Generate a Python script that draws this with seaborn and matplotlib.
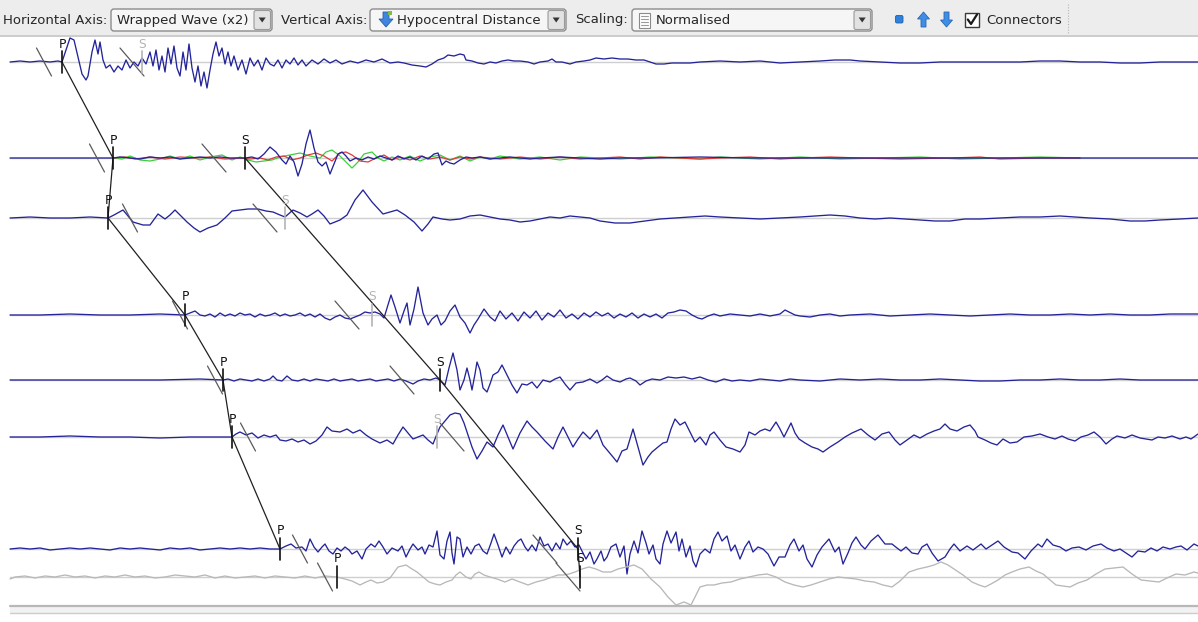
import matplotlib
matplotlib.use("Agg")
import numpy as np
import pandas as pd
import matplotlib.pyplot as plt
from matplotlib.patches import FancyBboxPatch, Rectangle, Polygon
import seaborn as sns

# ---------------- data ----------------
DT = 0.05      # seconds per sample unit (20 Hz)
GAIN = 0.2     # km of plot offset per normalised amplitude unit

STATIONS = ["S01", "S02", "S03", "S04", "S05", "S06", "S07", "S08"]
DIST_KM = [8.4, 27.6, 39.6, 59.0, 72.0, 83.4, 105.8, 111.4]

# (sample, normalised amplitude) pairs read from the record section
T1 = [(10,0),(20,1),(30,0),(40,1),(50,0),(58,1),(62,0),(66,12),(70,24),(74,22),(78,5),(82,-12),(86,-18),(88,-14),(92,10),(95,22),(98,8),(100,20),(103,2),(106,-6),(110,-3),(114,-10),(118,-4),(122,-8),(126,2),(130,-6),(134,0),(138,-4),(142,4),(146,-2),(150,10),(153,-4),(156,12),(159,-8),(162,6),(165,-10),(168,14),(171,-2),(174,16),(177,-6),(180,-14),(183,10),(186,-8),(189,18),(192,-6),(195,-20),(198,-4),(201,-24),(204,-10),(207,-26),(210,-8),(213,8),(216,20),(219,6),(222,14),(225,-2),(228,10),(231,-4),(234,6),(238,-8),(242,2),(246,-12),(250,4),(254,-4),(258,2),(262,-8),(266,4),(270,-2),(274,-4),(278,2),(282,-6),(286,2),(290,-2),(294,4),(298,-3),(302,2),(306,-4),(312,2),(318,-2),(324,3),(330,-1),(336,2),(342,-2),(350,1),(358,-1),(366,2),(374,0),(382,3),(390,-1),(398,0),(404,-1),(412,-3),(420,-4),(426,-5),(432,-2),(438,2),(444,4),(448,7),(454,6),(460,8),(464,7),(466,2),(472,1),(478,-1),(484,-2),(490,0),(496,-1),(502,1),(508,2),(514,1),(520,1),(528,0),(534,-2),(540,0),(548,1),(552,3),(556,0),(562,0),(570,-2),(576,0),(584,1),(590,2),(596,4),(604,3),(612,4),(620,3),(628,3),(636,2),(644,2),(650,0),(656,-2),(664,-2),(672,-1),(680,-1),(690,-1),(700,0),(720,1),(740,0),(760,1),(780,-1),(800,0),(820,1),(835,2),(850,2),(860,1),(880,0),(900,-1),(920,-1),(940,0),(960,0),(980,0),(1000,0),(1020,0),(1040,1),(1060,1),(1080,0),(1100,0),(1120,-1),(1140,-1),(1160,0),(1180,0),(1198,0)]

T2 = [(10,0),(60,0),(113,0),(120,1),(130,0),(140,-1),(150,1),(160,0),(170,1),(180,-1),(190,0),(200,1),(210,0),(220,1),(230,0),(245,0),(252,1),(258,-1),(264,4),(270,11),(276,6),(282,-2),(286,-6),(290,2),(294,-4),(298,-18),(302,-6),(306,14),(310,28),(314,10),(318,-4),(322,-8),(326,-4),(330,-16),(334,-6),(338,4),(342,6),(346,2),(350,-3),(356,0),(362,-2),(368,1),(374,-1),(380,2),(386,0),(392,-2),(398,2),(404,-1),(410,1),(416,-2),(422,2),(428,-1),(434,4),(438,5),(442,-7),(446,-3),(450,-5),(454,-6),(460,-2),(466,1),(472,0),(480,1),(490,-1),(500,0),(510,1),(520,0),(530,-1),(540,0),(560,1),(580,0),(600,-1),(620,0),(650,0),(700,1),(750,0),(800,0),(900,0),(1000,0),(1100,0),(1198,0)]

T2_RED = [(113,0),(125,1),(135,-1),(150,1),(165,-1),(180,1),(195,0),(210,1),(225,-1),(240,0),(250,-1),(260,0),(268,-2),(276,1),(284,2),(292,-2),(300,0),(308,3),(316,5),(324,2),(332,-3),(340,5),(346,6),(352,3),(360,-3),(368,-4),(376,0),(384,3),(392,-2),(400,1),(410,-2),(420,2),(430,-1),(440,1),(450,-2),(460,1),(470,-1),(480,1),(500,-1),(520,1),(540,-1),(560,1),(580,-1),(600,0),(620,1),(640,-1),(660,1),(680,0),(700,-1),(720,0),(750,1),(780,-1),(800,0),(830,1),(860,0),(900,-1),(950,0),(980,1),(1000,-1),(1040,0),(1080,0)]

T2_GREEN = [(113,0),(122,-1),(130,2),(140,-2),(150,-3),(160,-1),(170,2),(180,-1),(190,2),(200,-2),(210,1),(222,3),(232,-2),(240,1),(248,-2),(256,-4),(264,-3),(272,-2),(280,1),(290,3),(300,5),(310,2),(320,0),(326,6),(332,8),(340,2),(346,-4),(352,-10),(358,-4),(364,4),(372,6),(378,0),(384,-3),(392,1),(400,-2),(410,2),(420,-3),(430,1),(440,3),(450,-2),(460,2),(470,-3),(480,1),(490,-1),(500,2),(520,-1),(540,1),(560,-2),(580,1),(600,0),(620,-1),(650,1),(680,0),(700,-1),(720,1),(760,-1),(800,1),(840,-1),(880,0),(920,1),(960,-1),(1000,0),(1040,1),(1080,0)]

T3 = [(10,0),(30,1),(50,0),(70,0),(90,1),(108,0),(114,3),(123,8),(128,2),(133,-4),(143,-7),(150,-7),(158,4),(165,-1),(170,3),(175,8),(181,2),(187,-4),(194,-10),(200,-14),(208,-10),(217,-7),(225,0),(232,7),(240,8),(248,9),(258,9),(266,7),(273,6),(280,3),(285,1),(293,8),(300,5),(307,1),(312,4),(318,8),(324,2),(330,-6),(340,-2),(347,3),(355,18),(363,28),(372,16),(383,4),(390,6),(397,8),(405,3),(414,-4),(422,-13),(428,-6),(433,1),(442,-1),(450,-2),(460,-1),(470,2),(480,3),(490,1),(500,-1),(510,-2),(520,-4),(530,-3),(540,-1),(550,1),(560,0),(570,2),(580,1),(590,0),(600,-3),(615,-5),(630,-5),(645,-3),(660,-1),(675,0),(690,1),(705,2),(720,1),(740,0),(760,-1),(780,0),(800,1),(815,2),(830,3),(845,2),(860,0),(875,-1),(890,0),(905,-1),(920,-2),(935,-3),(950,-3),(965,-1),(980,-1),(1000,0),(1020,1),(1040,1),(1060,2),(1075,1),(1090,0),(1110,-1),(1130,-3),(1145,-3),(1160,-2),(1180,-1),(1198,0)]

T4 = [(10,0),(40,0),(70,1),(100,0),(130,0),(160,1),(185,0),(190,2),(195,4),(200,0),(205,-1),(210,1),(215,-2),(220,2),(225,-1),(230,1),(235,-1),(240,2),(245,0),(250,1),(255,-2),(260,1),(265,-1),(270,0),(275,2),(280,-1),(285,1),(290,-1),(295,0),(300,2),(305,-1),(310,1),(315,-2),(320,1),(325,-3),(330,-5),(335,-2),(340,0),(345,-3),(350,-4),(355,-2),(360,0),(365,3),(370,2),(375,3),(380,1),(384,-3),(388,10),(391,20),(395,8),(400,-8),(404,4),(407,12),(410,-10),(414,6),(418,28),(423,2),(428,-10),(432,-4),(437,0),(441,-10),(445,-6),(450,4),(455,10),(460,-2),(465,-8),(470,-18),(474,-10),(478,-4),(484,6),(490,-2),(495,-6),(500,4),(506,-4),(512,2),(518,-6),(524,3),(530,-3),(536,4),(542,-5),(548,2),(554,-2),(560,5),(566,-3),(572,1),(578,-4),(584,2),(590,-2),(596,3),(602,-1),(608,2),(614,-3),(620,1),(626,-2),(632,2),(638,-3),(644,1),(650,-2),(656,1),(662,-3),(668,2),(674,3),(680,5),(686,4),(692,0),(698,-3),(702,-4),(708,-1),(714,1),(720,-1),(730,1),(740,0),(750,-1),(760,1),(770,-1),(780,1),(785,5),(789,3),(795,0),(800,-1),(810,-2),(820,0),(830,1),(840,-1),(850,0),(870,1),(890,-1),(910,0),(930,1),(950,0),(970,-1),(990,0),(1010,1),(1030,0),(1050,0),(1070,1),(1090,0),(1110,1),(1130,0),(1150,0),(1170,1),(1198,1)]

T5 = [(10,0),(60,0),(110,0),(160,0),(200,1),(223,0),(228,1),(234,-1),(240,1),(246,0),(252,-1),(258,1),(264,-1),(270,1),(273,4),(277,0),(282,-1),(287,4),(292,0),(298,-1),(304,1),(310,-1),(316,1),(322,0),(328,-1),(334,1),(340,-1),(346,0),(352,1),(358,-1),(364,0),(370,1),(376,-1),(382,0),(388,1),(394,-1),(400,1),(406,-1),(413,-4),(418,-1),(424,1),(430,0),(436,2),(440,0),(445,-5),(449,12),(453,27),(457,10),(460,-10),(464,0),(467,12),(470,0),(472,-10),(475,6),(477,18),(480,10),(483,-8),(487,-12),(490,-4),(493,5),(498,8),(502,15),(507,5),(512,-5),(517,-13),(522,-4),(527,-5),(532,-2),(537,-8),(543,0),(550,-2),(555,1),(560,3),(565,-4),(570,-10),(576,-3),(583,-2),(590,1),(597,-3),(602,0),(607,4),(613,0),(620,-2),(626,1),(630,2),(636,-1),(640,-5),(646,-1),(652,1),(660,0),(668,3),(676,2),(684,3),(692,1),(700,3),(708,0),(716,-2),(724,1),(732,-1),(740,0),(750,-1),(760,1),(770,0),(780,-1),(790,1),(800,0),(820,-1),(840,1),(860,0),(880,1),(900,0),(920,0),(940,1),(960,0),(980,-1),(1000,-1),(1020,0),(1040,0),(1060,1),(1080,0),(1100,0),(1120,1),(1140,0),(1160,0),(1198,0)]

T6 = [(10,0),(40,0),(70,1),(100,0),(130,0),(160,-1),(190,0),(215,0),(232,0),(236,3),(240,5),(246,2),(252,4),(258,-1),(264,2),(270,0),(276,2),(280,-3),(286,-4),(292,-2),(298,-5),(304,-3),(310,-7),(316,-4),(322,2),(327,10),(332,6),(340,5),(347,8),(353,4),(360,7),(366,2),(372,-2),(380,-6),(387,-3),(393,-7),(398,2),(403,10),(408,4),(413,-2),(418,0),(423,2),(428,-3),(433,-7),(437,3),(440,10),(445,16),(450,22),(455,24),(460,23),(464,14),(467,5),(472,-10),(477,-22),(482,-14),(487,-5),(493,-10),(498,2),(503,12),(508,0),(513,-12),(520,4),(527,16),(532,10),(537,5),(545,-4),(553,-12),(558,0),(563,10),(568,0),(573,-10),(578,-2),(583,5),(590,-2),(597,7),(603,-8),(608,-14),(613,-20),(617,-25),(622,-14),(627,-12),(633,8),(638,-10),(643,-28),(648,-20),(652,-15),(658,-10),(663,-6),(667,-5),(671,8),(675,18),(680,12),(685,15),(690,5),(695,-5),(700,0),(706,-8),(710,2),(714,5),(720,-3),(726,-10),(733,-12),(740,-15),(745,-8),(749,5),(755,2),(760,6),(765,8),(770,6),(776,15),(780,8),(784,0),(788,8),(791,14),(795,4),(799,-2),(805,-6),(812,-10),(818,-12),(823,-15),(830,-10),(838,-5),(845,0),(852,4),(861,8),(868,2),(875,-3),(882,3),(889,5),(895,-3),(900,-8),(907,-3),(914,2),(920,-1),(927,3),(934,6),(940,8),(945,13),(950,8),(957,6),(964,10),(970,12),(975,6),(978,0),(985,-3),(991,-6),(997,-8),(1003,-2),(1010,-6),(1017,-5),(1024,0),(1032,1),(1040,3),(1048,0),(1055,-2),(1062,1),(1068,-2),(1075,-4),(1081,0),(1088,2),(1094,5),(1100,0),(1106,-7),(1112,-2),(1117,1),(1125,-1),(1132,2),(1140,-1),(1146,-2),(1152,-3),(1158,0),(1165,-1),(1172,1),(1180,-2),(1186,0),(1191,-2),(1198,3)]

T7 = [(10,0),(20,1),(30,0),(40,1),(50,-1),(60,0),(70,1),(80,0),(90,1),(100,0),(110,-1),(120,1),(130,0),(140,1),(150,0),(160,-1),(170,1),(180,0),(190,1),(200,-1),(210,0),(220,1),(230,0),(240,1),(250,0),(260,1),(270,0),(280,0),(286,3),(291,5),(296,1),(302,2),(306,-2),(310,10),(314,2),(318,-3),(322,2),(325,5),(329,-2),(333,-5),(337,1),(341,-2),(345,2),(349,-1),(352,-5),(357,-2),(362,-10),(366,0),(371,5),(375,2),(379,8),(383,2),(387,-5),(392,1),(398,-2),(402,3),(406,-8),(410,0),(413,5),(418,-1),(422,2),(425,-5),(429,4),(433,2),(437,18),(440,-6),(444,-10),(447,8),(450,17),(452,-4),(454,-15),(457,12),(460,10),(463,-8),(467,2),(471,-5),(475,3),(479,5),(483,-2),(487,-5),(491,6),(494,15),(498,4),(502,-8),(506,2),(510,-5),(514,3),(518,8),(521,10),(525,2),(528,-2),(532,4),(536,-2),(540,12),(544,3),(548,5),(552,-2),(556,6),(560,0),(563,10),(567,4),(571,8),(575,2),(579,4),(583,-4),(586,-10),(590,-3),(594,-15),(597,-10),(601,-2),(604,-12),(607,-8),(611,2),(616,5),(620,-8),(624,3),(627,-25),(630,-5),(634,8),(638,-4),(642,18),(646,6),(649,-5),(653,4),(656,-10),(660,-15),(663,5),(667,18),(671,6),(676,17),(679,-2),(682,10),(686,-8),(690,3),(693,-12),(696,-18),(700,-5),(705,0),(710,-4),(714,10),(718,17),(722,8),(727,13),(731,-2),(735,4),(740,-10),(745,2),(749,8),(753,-3),(758,2),(763,0),(768,-5),(774,-17),(779,-8),(785,-8),(790,4),(794,10),(799,-2),(803,4),(807,-10),(812,-18),(817,-6),(822,2),(829,10),(835,-3),(839,2),(843,-15),(848,-4),(852,6),(856,12),(861,4),(865,0),(871,8),(878,14),(885,5),(892,5),(897,1),(901,-2),(906,2),(912,-4),(918,-5),(922,2),(927,5),(932,-4),(938,-12),(945,-8),(950,0),(954,5),(960,-2),(967,3),(973,-1),(981,5),(986,0),(992,4),(998,8),(1004,2),(1012,-3),(1018,-4),(1025,-10),(1031,-2),(1038,5),(1042,2),(1047,10),(1053,4),(1060,2),(1066,-2),(1072,1),(1079,2),(1086,-1),(1093,3),(1101,5),(1107,1),(1114,-2),(1120,0),(1126,-4),(1132,-8),(1138,-2),(1145,-3),(1151,1),(1157,-2),(1163,2),(1170,0),(1176,2),(1181,3),(1187,-1),(1194,5),(1198,3)]

T8 = [(10,-2),(15,0),(25,1),(35,-1),(45,1),(55,0),(65,2),(75,0),(85,1),(95,-1),(105,1),(115,0),(125,2),(135,0),(145,1),(155,-1),(165,0),(175,2),(185,1),(195,0),(205,2),(215,-1),(225,1),(235,-1),(245,0),(255,1),(265,-1),(275,1),(285,0),(295,-1),(305,1),(315,-1),(325,1),(337,0),(345,-2),(352,-4),(360,-8),(366,-5),(371,-3),(377,-6),(383,-5),(390,-1),(398,10),(406,12),(412,8),(417,5),(423,0),(429,-5),(435,-7),(440,-8),(446,-5),(452,-3),(456,2),(460,5),(466,0),(471,-2),(475,3),(479,5),(484,2),(490,0),(497,-2),(505,-5),(512,-2),(520,-5),(528,-8),(536,-5),(544,-3),(552,0),(558,2),(563,2),(569,3),(575,5),(582,8),(589,10),(596,8),(603,5),(611,5),(618,8),(626,10),(634,12),(642,8),(651,-2),(660,-10),(668,-20),(676,-28),(684,-25),(691,-28),(696,-18),(700,-10),(707,-8),(714,-8),(722,-6),(731,-5),(740,-2),(749,0),(758,2),(767,3),(776,0),(785,-5),(794,-8),(803,-10),(811,-8),(820,-5),(829,-2),(838,0),(847,-1),(856,-2),(865,-4),(874,-5),(883,-8),(892,-10),(900,-4),(909,5),(918,8),(927,10),(934,12),(941,15),(948,12),(954,8),(963,2),(972,-5),(979,-8),(985,-10),(991,-7),(998,-3),(1005,2),(1012,5),(1020,8),(1029,10),(1036,6),(1043,3),(1050,-3),(1056,-8),(1063,-9),(1070,-10),(1078,-6),(1087,-3),(1096,3),(1105,8),(1114,9),(1123,10),(1132,3),(1141,-3),(1150,-4),(1159,-5),(1167,-1),(1176,3),(1185,2),(1194,5),(1198,4)]

TRACES = [T1, T2, T3, T4, T5, T6, T7, T8]
ACTIVE = [True, True, True, True, True, True, True, False]

# picks (sample units); True = confirmed pick (black), False = greyed
P_PICK = [62, 113, 108, 185, 223, 232, 280, 337]
P_OK = [True, True, True, True, True, True, True, True]
S_PICK = [142, 245, 285, 372, 440, 437, 578, 580]
S_OK = [False, True, False, False, True, False, True, True]
# predicted arrivals (sample units)
P_PRED = [44, 97, 130, 180, 215, 248, 300, 325]
S_PRED = [132, 214, 265, 347, 402, 452, 545, 568]
P_CONNECT = [0, 1, 2, 3, 4, 5, 6]
S_CONNECT = [1, 4, 6, 7]

# ---------------- figure ----------------
sns.set_style("white")
plt.rcParams["font.family"] = ["DejaVu Sans"]
W, H = 1198, 622
fig = plt.figure(figsize=(W / 100, H / 100), dpi=100, facecolor="white")
ax = fig.add_axes([0, 0, 1, 1])
ax.set_xlim(0, W * DT)
ax.set_ylim(120.4, -4.0)
ax.set_axis_off()

BLUE = "#24249a"
GREY_TRACE = "#b8b8b8"
km_per_px = 0.2

# zero lines
for d in DIST_KM:
    ax.plot([10 * DT, W * DT], [d, d], color="#cfcfcf", lw=1.0, zorder=1)

def draw(pairs, dist, color, lw=0.95, z=3):
    arr = np.array(pairs, dtype=float)
    df = pd.DataFrame({"t": arr[:, 0] * DT, "y": dist - arr[:, 1] * GAIN})
    sns.lineplot(data=df, x="t", y="y", ax=ax, color=color, lw=lw,
                 estimator=None, sort=False, zorder=z, legend=False)

draw(T2_GREEN, DIST_KM[1], "#3ccf3c", 0.9, 2)
draw(T2_RED, DIST_KM[1], "#e03a3a", 0.9, 2)
for tr, d, act in zip(TRACES, DIST_KM, ACTIVE):
    draw(tr, d, BLUE if act else GREY_TRACE, 0.95, 3)
ax.set_xlim(0, W * DT)
ax.set_ylim(120.4, -4.0)
ax.set_xlabel(""); ax.set_ylabel("")

# predicted arrival markers
for i, d in enumerate(DIST_KM):
    for pred, dx in ((P_PRED[i], 7.5), (S_PRED[i], 12.0)):
        ax.plot([(pred - dx) * DT, (pred + dx) * DT],
                [d - 14 * km_per_px, d + 14 * km_per_px],
                color="#5a5a5a", lw=0.9, zorder=4)

# connectors
ax.plot([P_PICK[i] * DT for i in P_CONNECT], [DIST_KM[i] for i in P_CONNECT],
        color="#202020", lw=0.9, zorder=5)
ax.plot([S_PICK[i] * DT for i in S_CONNECT], [DIST_KM[i] for i in S_CONNECT],
        color="#202020", lw=0.9, zorder=5)

# pick ticks and labels
for i, d in enumerate(DIST_KM):
    for pick, ok, lab in ((P_PICK[i], P_OK[i], "P"), (S_PICK[i], S_OK[i], "S")):
        c = "#111111" if ok else "#b4b4b4"
        ax.plot([pick * DT, pick * DT], [d - 11 * km_per_px, d + 11 * km_per_px],
                color=c, lw=1.2, zorder=6)
        ax.text(pick * DT, d - 11.5 * km_per_px, lab, color=c, fontsize=8.8,
                ha="center", va="bottom", zorder=7)

# ---------------- toolbar / chrome (pixel coordinates) ----------------
ui = fig.add_axes([0, 0, 1, 1], zorder=10)
ui.set_xlim(0, W); ui.set_ylim(H, 0)
ui.set_axis_off(); ui.patch.set_alpha(0)

ui.add_patch(Rectangle((0, 0), W, 35, facecolor="#ededed", edgecolor="none"))
ui.plot([0, W], [35.5, 35.5], color="#c4c4c4", lw=1.2)

TXT = dict(fontsize=9.5, color="#262626", va="center")
ui.text(107, 20, "Horizontal Axis:", ha="right", **TXT)
ui.text(367, 20, "Vertical Axis:", ha="right", **TXT)
ui.text(628, 20, "Scaling:", ha="right", **TXT)
ui.text(986, 20, "Connectors", ha="left", **TXT)

def combo(x0, x1, label, tx):
    ui.add_patch(FancyBboxPatch((x0, 9), x1 - x0, 22,
                 boxstyle="round,pad=0,rounding_size=3",
                 facecolor="#f6f6f6", edgecolor="#8c8c8c", lw=1.0))
    ui.add_patch(FancyBboxPatch((x1 - 18, 10.5), 16.5, 19,
                 boxstyle="round,pad=0,rounding_size=2",
                 facecolor="#e2e2e2", edgecolor="#9a9a9a", lw=0.8))
    cx = x1 - 9.8
    ui.add_patch(Polygon([[cx - 3.5, 17.5], [cx + 3.5, 17.5], [cx, 22.5]],
                 closed=True, facecolor="#333333", edgecolor="none"))
    ui.text(tx, 20.5, label, ha="left", **TXT)

combo(111, 272, "Wrapped Wave (x2)", 117)
combo(370, 566, "Hypocentral Distance", 397)
combo(632, 872, "Normalised", 656)

# icon in vertical-axis combo: blue down arrow
ui.add_patch(Polygon([[383, 12], [389, 12], [389, 19], [393, 19], [386, 27],
                      [379, 19], [383, 19]], closed=True,
                     facecolor="#3f86df", edgecolor="#2a5fa8", lw=0.6))
ui.add_patch(Rectangle((388, 11), 4, 4, facecolor="#7bc043", edgecolor="none"))
# icon in scaling combo: document
ui.add_patch(Rectangle((639, 12.5), 11, 15, facecolor="white", edgecolor="#8a8a8a", lw=0.8))
for yy in (16, 19, 22, 25):
    ui.plot([641, 648], [yy, yy], color="#9a9a9a", lw=0.8)

# blue square, up/down arrows, checkbox
ui.add_patch(FancyBboxPatch((895.5, 15.5), 7.5, 7.5, boxstyle="round,pad=0,rounding_size=1.5",
             facecolor="#2f82dc", edgecolor="#1d5fae", lw=0.6))
ui.add_patch(Polygon([[923.5, 12], [929.5, 19], [926, 19], [926, 27], [921, 27],
                      [921, 19], [917.5, 19]], closed=True,
                     facecolor="#3f8ee6", edgecolor="#2a66b0", lw=0.6))
ui.add_patch(Polygon([[946.5, 27], [952.5, 20], [949, 20], [949, 12], [944, 12],
                      [944, 20], [940.5, 20]], closed=True,
                     facecolor="#3f8ee6", edgecolor="#2a66b0", lw=0.6))
ui.add_patch(Rectangle((965, 12.5), 14, 14, facecolor="white", edgecolor="#3a3a3a", lw=1.0))
ui.plot([967.8, 971, 977], [19.5, 24, 14.5], color="#1a1a1a", lw=1.6)
ui.plot([1068, 1068], [4, 34], color="#b4b4b4", lw=0.8, ls=(0, (1, 1.5)))

# bottom scroll bar
ui.add_patch(Rectangle((10, 606), W - 10, 7, facecolor="#f2f2f2", edgecolor="none"))
ui.plot([10, W], [606, 606], color="#b8b8b8", lw=1.6)
ui.plot([10, W], [613, 613], color="#cdcdcd", lw=1.0)

fig.savefig("out.png", dpi=100, facecolor="white")
